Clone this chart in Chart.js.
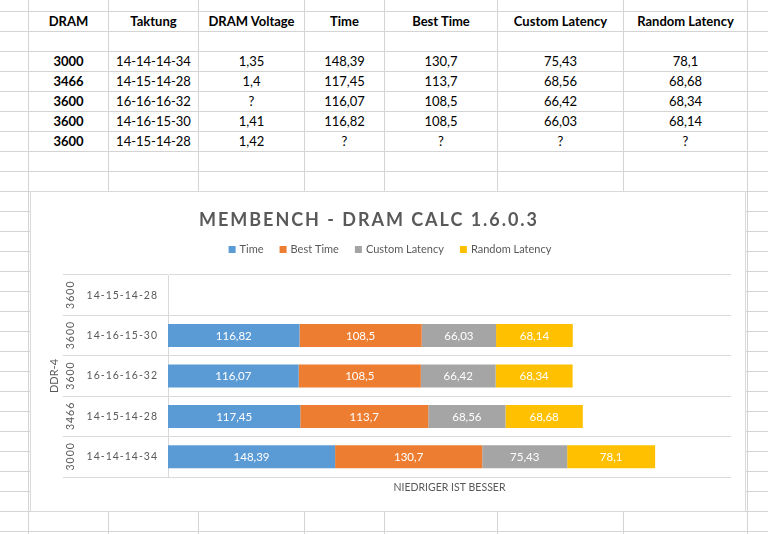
<!DOCTYPE html>
<html>
<head>
<meta charset="utf-8">
<script src="https://cdn.jsdelivr.net/npm/chart.js@4.4.0/dist/chart.umd.min.js"></script>
<style>
  body { margin: 0; background: #fff; font-family: Lato, sans-serif; }
  #sheet { position: relative; width: 768px; height: 534px; overflow: hidden; }
  .vline { position: absolute; top: 0; width: 1px; height: 534px; background: #d4d4d4; }
  .hline { position: absolute; left: 0; width: 768px; height: 1px; background: #d4d4d4; }
  .cell { position: absolute; height: 19px; line-height: 19px; text-align: center; font-size: 13px; color: #000; white-space: nowrap; }
  .bold { font-weight: bold; }
  #chartBox { position: absolute; left: 30px; top: 191px; width: 714px; height: 319px; border: 1px solid #d9d9d9; background: #fff; z-index: 2; }
</style>
</head>
<body>
<div id="sheet">
  <div id="chartBox"><canvas id="myChart"></canvas></div>
</div>
<script>
const headers = ['DRAM', 'Taktung', 'DRAM Voltage', 'Time', 'Best Time', 'Custom Latency', 'Random Latency'];
const dram = ['3000', '3466', '3600', '3600', '3600'];
const timings = ['14-14-14-34', '14-15-14-28', '16-16-16-32', '14-16-15-30', '14-15-14-28'];
const voltage = [1.35, 1.4, null, 1.41, 1.42];
const time = [148.39, 117.45, 116.07, 116.82, null];
const bestTime = [130.7, 113.7, 108.5, 108.5, null];
const customLatency = [75.43, 68.56, 66.42, 66.03, null];
const randomLatency = [78.1, 68.68, 68.34, 68.14, null];

const chartTitle = 'MEMBENCH - DRAM CALC 1.6.0.3';
const xTitle = 'NIEDRIGER IST BESSER';
const groupTitle = 'DDR-4';

const fmt = (v) => v === null ? '?' : String(v).replace('.', ',');

// spreadsheet grid + table
const sheet = document.getElementById('sheet');
const colLines = [28, 108, 198, 304, 384, 497, 623, 747];
colLines.forEach(x => {
    const d = document.createElement('div');
    d.className = 'vline';
    d.style.left = x + 'px';
    sheet.appendChild(d);
});
for (let y = 11; y < 534; y += 20) {
    const d = document.createElement('div');
    d.className = 'hline';
    d.style.top = y + 'px';
    sheet.appendChild(d);
}

const addCell = (row, col, text, bold) => {
    const d = document.createElement('div');
    d.className = 'cell' + (bold ? ' bold' : '');
    d.style.top = (12 + row * 20) + 'px';
    d.style.left = (colLines[col] + 1) + 'px';
    d.style.width = (colLines[col + 1] - colLines[col] - 1) + 'px';
    d.textContent = text;
    sheet.appendChild(d);
};
headers.forEach((h, c) => addCell(0, c, h, true));
dram.forEach((d, i) => {
    const row = i + 2;
    addCell(row, 0, d, true);
    addCell(row, 1, timings[i]);
    addCell(row, 2, fmt(voltage[i]));
    addCell(row, 3, fmt(time[i]));
    addCell(row, 4, fmt(bestTime[i]));
    addCell(row, 5, fmt(customLatency[i]));
    addCell(row, 6, fmt(randomLatency[i]));
});

// labels in the bars, title, legend and the outer category level
const excelLabels = {
    id: 'excelLabels',
    beforeDraw(chart) {
        chart.ctx.letterSpacing = '0px';
    },
    afterDatasetsDraw(chart) {
        const ctx = chart.ctx;
        ctx.save();
        ctx.font = '11.5px Lato';
        ctx.fillStyle = '#ffffff';
        ctx.textAlign = 'center';
        ctx.textBaseline = 'middle';
        chart.data.datasets.forEach((ds, i) => {
            chart.getDatasetMeta(i).data.forEach((bar, j) => {
                const v = ds.data[j];
                if (v === null) return;
                ctx.fillText(fmt(v), (bar.x + bar.base) / 2, bar.y + 0.5);
            });
        });
        ctx.restore();
        // y tick labels are drawn after this (ticks.z = 1), spaced like excel
        ctx.letterSpacing = '1px';
    },
    afterDraw(chart) {
        const ctx = chart.ctx;
        const yScale = chart.scales.y;
        ctx.save();
        ctx.fillStyle = '#595959';
        ctx.textBaseline = 'middle';

        // title
        ctx.font = 'bold 18px Lato';
        ctx.letterSpacing = '0px';
        const w0 = ctx.measureText(chartTitle).width;
        const titleWidth = 338;
        ctx.letterSpacing = ((titleWidth - w0) / (chartTitle.length - 1)) + 'px';
        ctx.textAlign = 'left';
        ctx.fillText(chartTitle, 337 - titleWidth / 2, 28.5);

        // legend
        ctx.font = '11px Lato';
        ctx.letterSpacing = '0px';
        const items = chart.data.datasets.map(ds => ({
            text: ds.label, color: ds.backgroundColor, w: ctx.measureText(ds.label).width
        }));
        const box = 7, gapText = 4, gapItem = 16;
        const total = items.reduce((s, it) => s + box + gapText + it.w, 0) + gapItem * (items.length - 1);
        let x = chart.width / 2 + 2 - total / 2;
        items.forEach(it => {
            ctx.fillStyle = it.color;
            ctx.fillRect(x, 54, box, box);
            ctx.fillStyle = '#595959';
            ctx.fillText(it.text, x + box + gapText, 57.5);
            x += box + gapText + it.w + gapItem;
        });

        // outer level: DRAM speed, rotated
        ctx.font = '10.5px Lato';
        ctx.letterSpacing = '1px';
        ctx.textAlign = 'center';
        dram.forEach((d, i) => {
            ctx.save();
            ctx.translate(39.5, yScale.getPixelForTick(i));
            ctx.rotate(-Math.PI / 2);
            ctx.fillText(d, 0.5, 0);
            ctx.restore();
        });

        // top level: DDR-4
        ctx.font = '11px Lato';
        ctx.letterSpacing = '0px';
        ctx.save();
        ctx.translate(23, (yScale.top + yScale.bottom) / 2);
        ctx.rotate(-Math.PI / 2);
        ctx.fillText(groupTitle, 0, 0);
        ctx.restore();

        ctx.restore();
        ctx.letterSpacing = '0px';
    }
};

const ctx = document.getElementById('myChart');
const myChart = new Chart(ctx, {
    type: 'bar',
    data: {
        labels: timings,
        datasets: [
            { label: 'Time', data: time, backgroundColor: '#5B9BD5' },
            { label: 'Best Time', data: bestTime, backgroundColor: '#ED7D31' },
            { label: 'Custom Latency', data: customLatency, backgroundColor: '#A5A5A5' },
            { label: 'Random Latency', data: randomLatency, backgroundColor: '#FFC000' }
        ]
    },
    options: {
        indexAxis: 'y',
        responsive: true,
        maintainAspectRatio: false,
        animation: false,
        layout: { padding: { top: 83, right: 14, bottom: 13, left: 0 } },
        datasets: { bar: { barPercentage: 0.57, categoryPercentage: 1 } },
        scales: {
            x: {
                stacked: true,
                min: 0,
                max: 500,
                grid: { display: false },
                border: { display: false },
                ticks: { display: false },
                title: {
                    display: true,
                    text: xTitle,
                    color: '#595959',
                    font: { family: 'Lato', size: 10.5 },
                    padding: { top: 4, bottom: 4 }
                },
                afterFit: (scale) => { scale.height = 21; }
            },
            y: {
                stacked: true,
                reverse: true,
                grid: { color: '#d9d9d9', tickColor: '#d9d9d9', tickLength: 105 },
                border: { color: '#d9d9d9' },
                ticks: {
                    color: '#595959',
                    font: { family: 'Lato', size: 10.5 },
                    padding: -95,
                    z: 1
                },
                afterFit: (scale) => { scale.width = 137; }
            }
        },
        plugins: {
            legend: { display: false },
            title: { display: false },
            tooltip: { enabled: false }
        }
    },
    plugins: [excelLabels]
});
</script>
</body>
</html>
